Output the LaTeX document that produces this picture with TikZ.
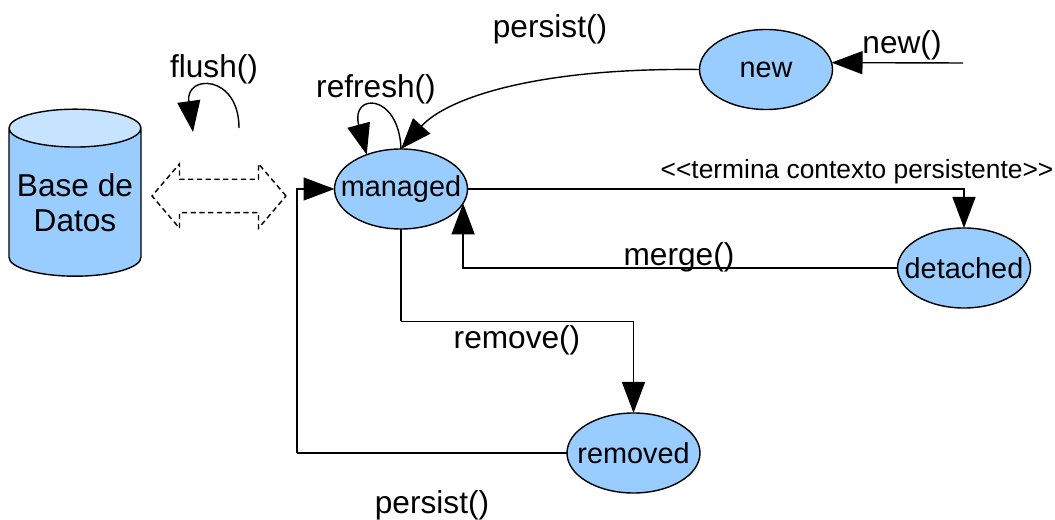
\documentclass[tikz,border=0pt]{standalone}
\usepackage{fontspec}
\setmainfont{Liberation Sans}
\usetikzlibrary{arrows.meta,shapes.geometric,shapes.arrows}
\definecolor{statefill}{HTML}{99CCFF}
\definecolor{topfill}{HTML}{C6E3FF}
\tikzset{
  statenode/.style={ellipse, draw, fill=statefill, line width=0.8pt, inner xsep=-0.5cm, inner ysep=0pt, outer sep=0pt,
    minimum width=2.66cm, minimum height=1.6cm, font=\fontsize{16.4}{20}\selectfont},
  labeltext/.style={font=\fontsize{18}{20}\selectfont},
  smalltext/.style={font=\fontsize{15}{17}\selectfont},
  wire/.style={line width=0.8pt},
  tipped/.style={wire, -{Triangle[length=0.62cm,width=0.46cm]}}
}

\begin{document}
\begin{tikzpicture}
\useasboundingbox (0,0) rectangle (21.1cm,-10.4cm);

\draw (1.5cm,-4.05cm) node (basedatos) [cylinder, shape border rotate=90, draw, line width=0.8pt, aspect=0.326,
  minimum width=2.64cm, minimum height=3.34cm, inner sep=0pt, outer sep=0pt, cylinder uses custom fill,
  cylinder body fill=statefill, cylinder end fill=topfill, align=center, labeltext] {Base de\\Datos};
\draw (4.38cm,-3.92cm) node (syncarrow) [double arrow, draw, densely dashed, line width=0.8pt, inner xsep=0pt, inner ysep=0.32cm,
  minimum height=2.68cm, minimum width=1.26cm, double arrow head extend=0.31cm,
  double arrow tip angle=99, double arrow head indent=0pt] {};

\draw (8.02cm,-3.78cm)  node (managed)  [statenode] {managed};
\draw (15.32cm,-1.39cm) node (new)      [statenode] {new};
\draw (19.28cm,-5.36cm) node (detached) [statenode] {detached};
\draw (12.67cm,-9.06cm) node (removed)  [statenode] {removed};

\coordinate (newstart)   at (19.26cm,-1.26cm);
\coordinate (flushstart) at (4.78cm,-2.56cm);
\coordinate (flushend)   at (3.86cm,-2.64cm);
\coordinate (backcorner) at (5.94cm,-9.06cm);
\coordinate (removebend) at (8.02cm,-6.43cm);

\draw [tipped] (newstart) -- (new.6);
\draw [tipped] (new.west) .. controls (10.6cm,-1.35cm) and (8.9cm,-2cm) .. (managed.north);
\draw [tipped] (managed.north) .. controls (7.98cm,-1.85cm) and (7cm,-1.85cm) .. (managed.135);
\draw [tipped] (flushstart) .. controls (4.78cm,-1.48cm) and (3.7cm,-1.48cm) .. (flushend);
\draw [tipped] (managed.east) -| (detached.north);
\draw [tipped] (detached.west) -| (managed.-13);
\draw [wire] (managed.south) -- (removebend);
\draw [tipped] (removebend) -| (removed.north);
\draw [wire] (removed.west) -- (backcorner);
\draw [tipped] (backcorner) |- (managed.west);

\draw (11cm,-0.58cm)    node (persistnew)     [labeltext] {persist()};
\draw (4.28cm,-1.38cm)  node (flushlabel)     [labeltext] {flush()};
\draw (7.52cm,-1.78cm)  node (refreshlabel)   [labeltext] {refresh()};
\draw (18.04cm,-0.9cm)  node (newlabel)       [labeltext] {new()};
\draw (17.14cm,-3.44cm) node (terminalabel)   [smalltext] {<{}<termina contexto persistente>{}>};
\draw (13.58cm,-5.14cm) node (mergelabel)     [labeltext] {merge()};
\draw (10.34cm,-6.8cm)  node (removelabel)    [labeltext] {remove()};
\draw (8.64cm,-10.1cm)  node (persistremoved) [labeltext] {persist()};
\end{tikzpicture}
\end{document}
